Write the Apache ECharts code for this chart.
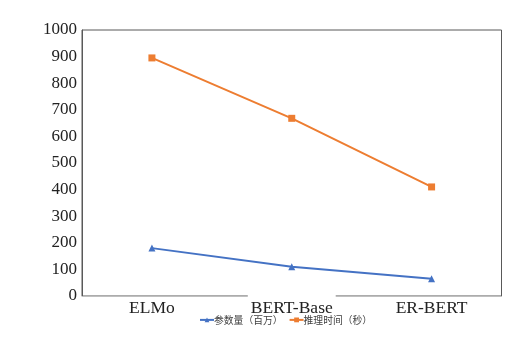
<!DOCTYPE html>
<html><head><meta charset="utf-8">
<script src="https://cdn.jsdelivr.net/npm/echarts@6/dist/echarts.min.js"></script>
<style>html,body{margin:0;padding:0;background:#fff}#c{width:531px;height:338px}</style>
</head><body><div id="c"></div>
<script>
const categories = ['ELMo', 'BERT-Base', 'ER-BERT'];
const paramsMillions = [180, 110, 65];
const inferenceSeconds = [895, 668, 410];
const yTicks = [0, 100, 200, 300, 400, 500, 600, 700, 800, 900, 1000];
const seriesNames = ['参数量（百万）', '推理时间（秒）'];

const chart = echarts.init(document.getElementById('c'));
const catData = categories.map((c, i) => i === 1 ? {
  value: c,
  textStyle: { backgroundColor: '#fff' }
} : c);
chart.setOption({
  animation: false,
  grid: { left: 82, right: 29.5, top: 30, bottom: 42, show: true, borderColor: '#595959', borderWidth: 1, backgroundColor: 'transparent' },
  legend: {
    top: 310, left: 194, itemWidth: 14, itemHeight: 6, itemGap: 6,
    textStyle: { fontFamily: 'Noto Sans CJK SC', fontSize: 9.8, color: '#404040', padding: [0, 0, 0, -5] },
    data: seriesNames
  },
  xAxis: {
    type: 'category', data: catData, boundaryGap: true,
    axisLine: { lineStyle: { color: '#bfbfbf', width: 1 } },
    axisTick: { show: false },
    axisLabel: { fontFamily: 'Liberation Serif', fontSize: 17.5, color: '#222', margin: -6, padding: [9, 3, 0, 3] }
  },
  yAxis: {
    type: 'value', min: yTicks[0], max: yTicks[yTicks.length - 1], interval: 100,
    axisLine: { show: true, lineStyle: { color: '#595959' } },
    axisTick: { show: false },
    splitLine: { show: false },
    axisLabel: { fontFamily: 'Liberation Serif', fontSize: 17, color: '#222', margin: 5, formatter: v => String(v) }
  },
  series: [
    { name: seriesNames[0], type: 'line', data: paramsMillions, symbol: 'triangle', symbolSize: 7,
      itemStyle: { color: '#4472c4' }, lineStyle: { color: '#4472c4', width: 2 } },
    { name: seriesNames[1], type: 'line', data: inferenceSeconds, symbol: 'rect', symbolSize: 7,
      itemStyle: { color: '#ed7d31' }, lineStyle: { color: '#ed7d31', width: 2 } }
  ]
});
</script></body></html>
